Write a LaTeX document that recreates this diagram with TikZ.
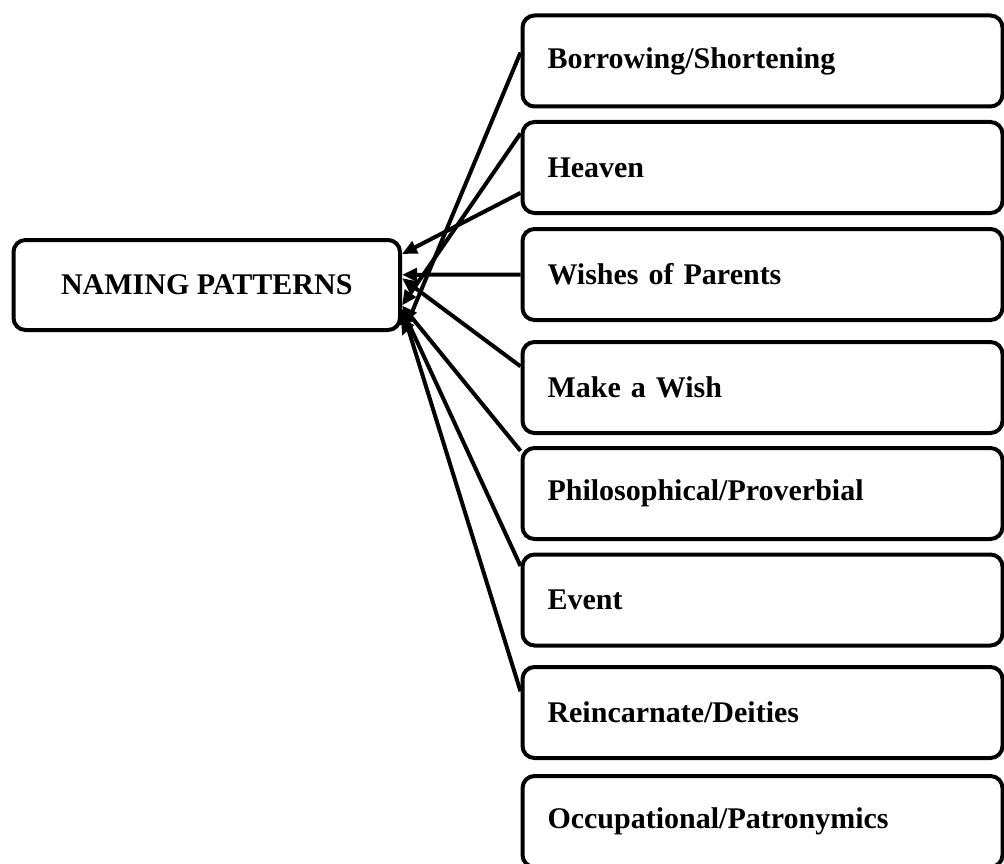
\documentclass[tikz,border=0pt]{standalone}
\usepackage{fontspec}
\setmainfont{Liberation Serif}
\usetikzlibrary{positioning,arrows.meta}

\begin{document}
\begin{tikzpicture}[
    x=1pt, y=-1pt,
    font={\fontsize{30}{35}\selectfont\bfseries},
    base/.style={draw,line width=4pt,rounded corners=12pt,rectangle,inner sep=0pt},
    cat/.style={base,minimum width=480pt,minimum height=91pt,text width=430pt,align=left},
    link/.style={line width=4pt,-{Triangle[length=15pt,width=13pt]}},
]

    \useasboundingbox (0,0) rectangle (1004,864);

    \node[base,minimum width=386.5pt,minimum height=90pt] at (206.75,285) (naming) {NAMING PATTERNS};

    \node[cat] at (762.5,61) (borrow) {Borrowing/Shortening};
    \node[cat] at (762.5,167.5) (heaven) {Heaven};
    \node[cat] at (762.5,274.5) (wishes) {Wishes of Parents};
    \node[cat] at (762.5,387.5) (makewish) {Make a Wish};
    \node[cat] at (762.5,493.5) (philo) {Philosophical/Proverbial};
    \node[cat] at (762.5,600) (event) {Event};
    \node[cat] at (762.5,712.5) (reinc) {Reincarnate/Deities};
    \node[cat] at (762.5,821.5) (occup) {Occupational/Patronymics};

    \draw[link](borrow.178) to ([yshift=-4pt]naming.south east);
    \draw[link](heaven.172) to (naming.-6.5);
    \draw[link](heaven.186) to (naming.9);
    \draw[link](wishes) to (naming.3);
    \draw[link](makewish.175.4) to (naming.2);
    \draw[link](philo.170.4) to (naming.-6);
    \draw[link](event.172.9) to (naming.-7);
    \draw[link](reinc.175.1) to (naming.-7.5);

\end{tikzpicture}
\end{document}
